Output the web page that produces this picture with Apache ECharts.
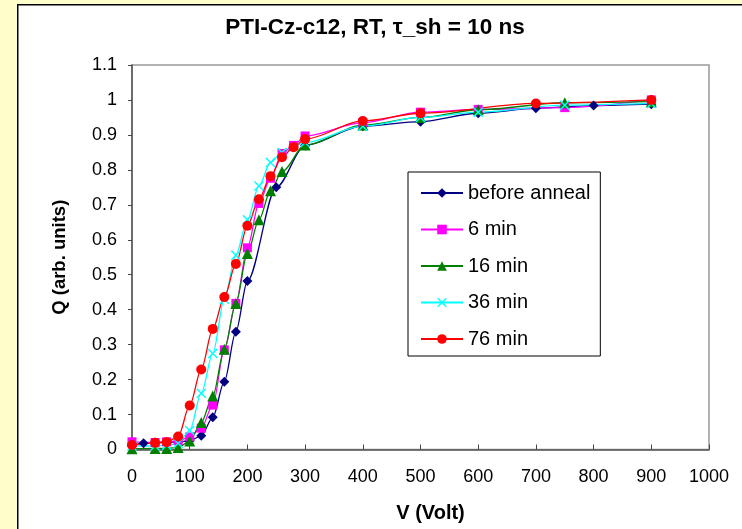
<!DOCTYPE html>
<html><head><meta charset="utf-8">
<script src="https://cdn.jsdelivr.net/npm/echarts@6/dist/echarts.min.js"></script>
<style>html,body{margin:0;padding:0;background:#FFFFCC;}#c{width:742px;height:529px;}</style>
</head><body><div id="c"></div>
<script>
var seriesNames = ['before anneal', '6 min', '16 min', '36 min', '76 min'];
var vBefore = [0, 20, 40, 60, 80, 100, 120, 140, 160, 180, 200, 250, 300, 400, 500, 600, 700, 800, 900];
var qBefore = [0.01, 0.018, 0.02, 0.02, 0.022, 0.025, 0.039, 0.092, 0.194, 0.337, 0.482, 0.750, 0.870, 0.925, 0.938, 0.962, 0.976, 0.984, 0.988];
var v6 = [0, 40, 60, 80, 100, 120, 140, 160, 180, 200, 220, 240, 260, 280, 300, 400, 500, 600, 750, 900];
var q6 = [0.022, 0.02, 0.022, 0.025, 0.036, 0.061, 0.127, 0.285, 0.418, 0.577, 0.704, 0.776, 0.847, 0.87, 0.897, 0.935, 0.965, 0.973, 0.978, 1.0];
var v16 = [0, 40, 60, 80, 100, 120, 140, 160, 180, 200, 220, 240, 260, 300, 400, 500, 600, 750, 900];
var q16 = [0.002, 0.003, 0.003, 0.006, 0.024, 0.077, 0.153, 0.287, 0.418, 0.561, 0.657, 0.740, 0.795, 0.871, 0.928, 0.95, 0.972, 0.992, 0.995];
var v36 = [0, 40, 60, 80, 100, 120, 140, 160, 180, 200, 220, 240, 260, 300, 400, 500, 600, 750, 900];
var q36 = [0.01, 0.01, 0.012, 0.018, 0.054, 0.161, 0.275, 0.43, 0.556, 0.657, 0.754, 0.821, 0.85, 0.878, 0.925, 0.95, 0.965, 0.985, 0.99];
var v76 = [0, 40, 60, 80, 100, 120, 140, 160, 180, 200, 220, 240, 260, 280, 300, 400, 500, 700, 900];
var q76 = [0.013, 0.019, 0.021, 0.037, 0.126, 0.229, 0.345, 0.436, 0.531, 0.640, 0.716, 0.782, 0.836, 0.865, 0.888, 0.94, 0.962, 0.99, 1.0];
var xTicks = [0, 100, 200, 300, 400, 500, 600, 700, 800, 900, 1000];
var yTicks = ['0', '0.1', '0.2', '0.3', '0.4', '0.5', '0.6', '0.7', '0.8', '0.9', '1', '1.1'];

function pairs(v, q) { return v.map(function (x, i) { return [x, q[i]]; }); }
var colors = ['#000080', '#FF00FF', '#008000', '#00FFFF', '#FF0000'];
var symbols = ['diamond', 'rect', 'triangle',
  'path://M0,1L1,0L5,4L9,0L10,1L6,5L10,9L9,10L5,6L1,10L0,9L4,5Z', 'circle'];
var sizes = [10, 9, 11, 10, 10];
var datas = [pairs(vBefore, qBefore), pairs(v6, q6), pairs(v16, q16), pairs(v36, q36), pairs(v76, q76)];
var FONT = "'Liberation Sans', Arial, sans-serif";

var series = seriesNames.map(function (n, i) {
  return {
    name: n, type: 'line', data: datas[i], smooth: 0.3, smoothMonotone: 'x',
    symbol: symbols[i], symbolSize: sizes[i], showAllSymbol: true,
    lineStyle: { color: colors[i], width: 1.3 },
    itemStyle: { color: colors[i] },
    emphasis: { disabled: true }, animation: false
  };
});

var chart = echarts.init(document.getElementById('c'));
chart.setOption({
  backgroundColor: '#FFFFCC',
  animation: false,
  graphic: [{
    type: 'rect', left: 17, top: 4, z: -10,
    shape: { x: 0, y: 0, width: 760, height: 560 },
    style: { fill: '#ffffff', stroke: '#000000', lineWidth: 1.5 }
  }],
  title: {
    text: 'PTI-Cz-c12, RT, \u03c4_sh = 10 ns', left: 370, top: 11, textAlign: 'center',
    textStyle: { fontFamily: FONT, fontSize: 22.5, fontWeight: 'bold', color: '#000' }
  },
  grid: { left: 132, top: 65, right: 33, bottom: 79.5, show: true, borderColor: '#999999', borderWidth: 1.5, backgroundColor: 'transparent' },
  legend: {
    orient: 'vertical', left: 408, top: 172,
    padding: [11, 10, 7, 12], itemGap: 16.5,
    borderColor: '#000', borderWidth: 1, backgroundColor: '#fff',
    itemWidth: 42, itemHeight: 12,
    textStyle: { fontFamily: FONT, fontSize: 20, color: '#000' },
    data: seriesNames
  },
  xAxis: {
    type: 'value', min: 0, max: 1000, interval: 100,
    name: 'V (Volt)', nameLocation: 'middle', nameGap: 54,
    nameTextStyle: { fontFamily: FONT, fontSize: 20, fontWeight: 'bold', color: '#000', padding: [0, 0, 0, 20] },
    axisLine: { show: true, lineStyle: { color: '#555', width: 1.5 } },
    axisTick: { show: true, inside: true, length: 5, lineStyle: { color: '#444' } },
    axisLabel: { fontFamily: FONT, fontSize: 18, color: '#000', margin: 19,
      formatter: function (v) { return xTicks.indexOf(v) >= 0 ? String(v) : ''; } },
    splitLine: { show: false }
  },
  yAxis: {
    type: 'value', min: 0, max: 1.1, interval: 0.1,
    name: 'Q (arb. units)', nameLocation: 'middle', nameGap: 63, nameRotate: 90,
    nameTextStyle: { fontFamily: FONT, fontSize: 18.5, fontWeight: 'bold', color: '#000' },
    axisLine: { show: true, lineStyle: { color: '#555', width: 1.5 } },
    axisTick: { show: true, inside: false, length: 4, lineStyle: { color: '#444' } },
    axisLabel: { fontFamily: FONT, fontSize: 18, color: '#000', margin: 15,
      formatter: function (v) { var k = Math.round(v * 10); return yTicks[k]; } },
    splitLine: { show: false }
  },
  series: series
});
</script></body></html>
